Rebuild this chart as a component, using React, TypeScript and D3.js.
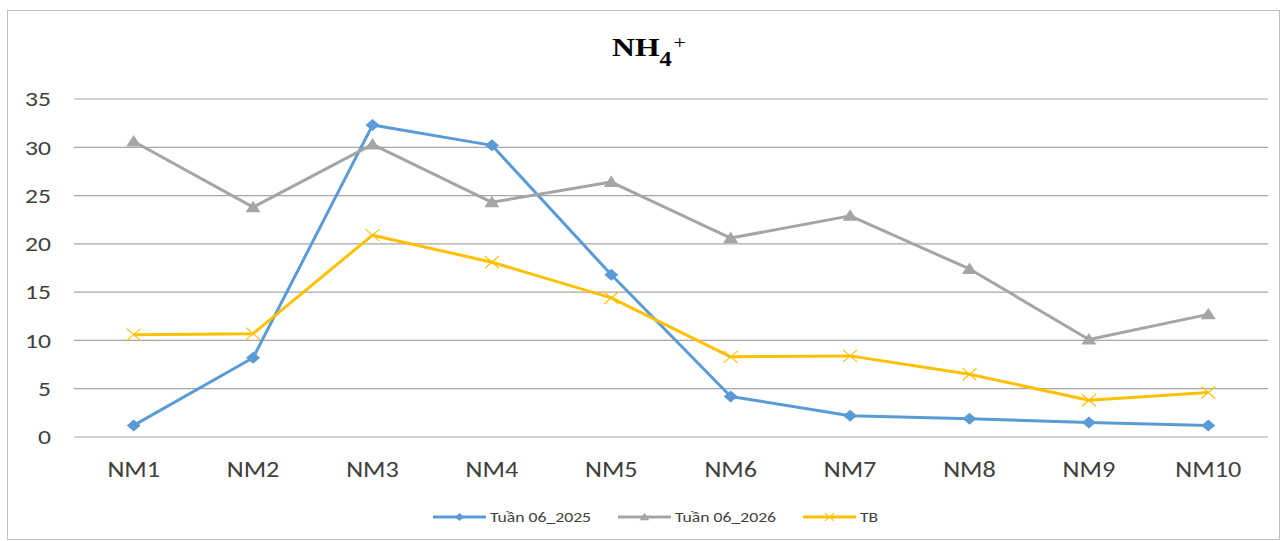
import React from 'react';
import * as d3 from 'd3';

const categories = ['NM1', 'NM2', 'NM3', 'NM4', 'NM5', 'NM6', 'NM7', 'NM8', 'NM9', 'NM10'];
const week2025 = [1.2, 8.2, 32.3, 30.2, 16.8, 4.2, 2.2, 1.9, 1.5, 1.2];
const week2026 = [30.6, 23.8, 30.3, 24.3, 26.4, 20.6, 22.9, 17.4, 10.1, 12.7];
const average = [10.6, 10.7, 20.9, 18.1, 14.4, 8.3, 8.4, 6.5, 3.8, 4.6];
const yTicks = [0, 5, 10, 15, 20, 25, 30, 35];

const W = 1288;
const H = 541;
const left = 74;
const right = 1268;
const top = 99;
const bottom = 437;
// the reference is a horizontally stretched picture, so text is widened a bit
const stretch = 1.22;

const series = [
  { name: 'Tuần 06_2025', values: week2025, color: '#5b9bd5', marker: 'diamond' },
  { name: 'Tuần 06_2026', values: week2026, color: '#a5a5a5', marker: 'triangle' },
  { name: 'TB', values: average, color: '#ffc000', marker: 'x' },
];

function Marker({ type, x, y, color, s = 1 }: { type: string; x: number; y: number; color: string; s?: number }) {
  if (type === 'diamond') {
    return <path d={`M${x},${y - 6 * s}L${x + 7 * s},${y}L${x},${y + 6 * s}L${x - 7 * s},${y}Z`} fill={color} />;
  }
  if (type === 'triangle') {
    return <path d={`M${x},${y - 6.5 * s}L${x + 7.5 * s},${y + 5 * s}L${x - 7.5 * s},${y + 5 * s}Z`} fill={color} />;
  }
  return (
    <path
      d={`M${x - 7 * s},${y - 6 * s}L${x + 7 * s},${y + 6 * s}M${x - 7 * s},${y + 6 * s}L${x + 7 * s},${y - 6 * s}`}
      stroke={color}
      strokeWidth={1.2}
      fill="none"
    />
  );
}

export default function App() {
  const x = d3.scaleBand().domain(categories).range([left, right]);
  const y = d3.scaleLinear().domain([0, 35]).range([bottom, top]);
  const cx = (c: string) => (x(c) as number) + x.bandwidth() / 2;
  const font = "Carlito, Calibri, 'Liberation Sans', Arial, sans-serif";
  const line = d3
    .line<number>()
    .x((_, i) => cx(categories[i]))
    .y((d) => y(d));

  const legendItems = [
    { lx: 433, tx: 490 },
    { lx: 618, tx: 675 },
    { lx: 803, tx: 860 },
  ];

  return (
    <svg width={W} height={H} style={{ position: 'absolute', left: 0, top: 0 }}>
      <rect x={0} y={0} width={W} height={H} fill="#fff" />
      <rect x={7.5} y={10.5} width={1272} height={529} fill="none" stroke="#bfbfbf" strokeWidth={1} />

      <text
        transform={`translate(649,56) scale(${stretch},1)`}
        textAnchor="middle"
        fontFamily="'Times New Roman', 'Liberation Serif', serif"
        fontWeight="bold"
        fontSize={26}
        fill="#000"
      >
        NH
        <tspan fontSize={20} dy={10}>4</tspan>
        <tspan fontSize={18} fontWeight="normal" dx={1.5} dy={-17}>+</tspan>
      </text>

      {yTicks.map((t) => (
        <g key={t}>
          <line x1={left} x2={right} y1={y(t)} y2={y(t)} stroke="#a6a6a6" strokeWidth={1.2} />
          <text
            transform={`translate(51,${y(t)}) scale(${stretch},1)`}
            dy="0.35em"
            textAnchor="end"
            fontFamily={font}
            fontSize={21}
            fill="#404040"
          >
            {t}
          </text>
        </g>
      ))}

      {categories.map((c) => (
        <text
          key={c}
          transform={`translate(${cx(c)},469) scale(${stretch},1)`}
          dy="0.35em"
          textAnchor="middle"
          fontFamily={font}
          fontSize={21.5}
          fill="#404040"
        >
          {c}
        </text>
      ))}

      {series.map((s) => (
        <g key={s.name}>
          <path d={line(s.values) || ''} fill="none" stroke={s.color} strokeWidth={3} strokeLinejoin="round" />
          {s.values.map((v, i) => (
            <Marker key={i} type={s.marker} x={cx(categories[i])} y={y(v)} color={s.color} />
          ))}
        </g>
      ))}

      {series.map((s, i) => {
        const { lx, tx } = legendItems[i];
        return (
          <g key={s.name}>
            <line x1={lx} x2={lx + 53} y1={517} y2={517} stroke={s.color} strokeWidth={3} />
            <Marker type={s.marker} x={lx + 26.5} y={517} color={s.color} s={0.65} />
            <text
              transform={`translate(${tx},517) scale(${stretch},1)`}
              dy="0.35em"
              fontFamily={font}
              fontSize={14.5}
              fill="#404040"
            >
              {s.name}
            </text>
          </g>
        );
      })}
    </svg>
  );
}
